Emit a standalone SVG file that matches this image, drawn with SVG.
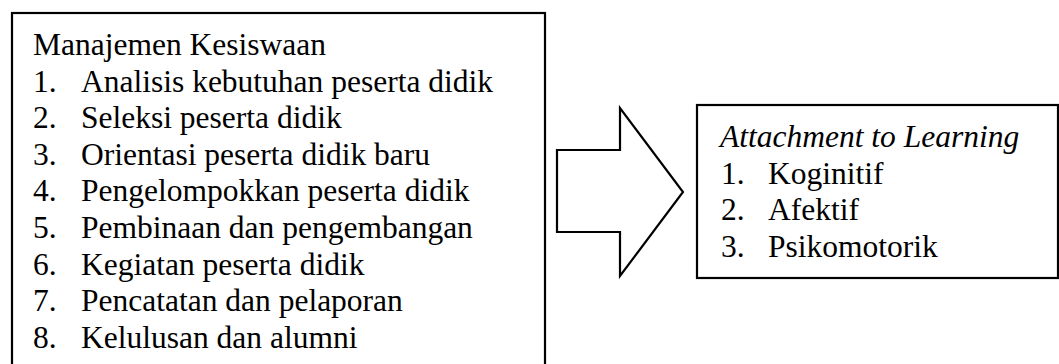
<svg xmlns="http://www.w3.org/2000/svg" width="1059" height="364" viewBox="0 0 1059 364">
<style>
.box{fill:#fff;stroke:#000;stroke-width:2.2}
.t{font-family:"Liberation Serif","Times New Roman",serif;font-size:31.5px;fill:#000}
.i{font-style:italic}
</style>
<rect width="1059" height="364" fill="#fff"/>
<g id="kesiswaan">
<rect class="box" x="12" y="13" width="533" height="370"/>
<text class="t" x="33" y="55">Manajemen Kesiswaan</text>
<text class="t" x="33" y="91.6">1.</text><text class="t" x="81" y="91.6">Analisis kebutuhan peserta didik</text>
<text class="t" x="33" y="128.2">2.</text><text class="t" x="81" y="128.2">Seleksi peserta didik</text>
<text class="t" x="33" y="164.8">3.</text><text class="t" x="81" y="164.8">Orientasi peserta didik baru</text>
<text class="t" x="33" y="201.4">4.</text><text class="t" x="81" y="201.4">Pengelompokkan peserta didik</text>
<text class="t" x="33" y="238">5.</text><text class="t" x="81" y="238">Pembinaan dan pengembangan</text>
<text class="t" x="33" y="274.6">6.</text><text class="t" x="81" y="274.6">Kegiatan peserta didik</text>
<text class="t" x="33" y="311.2">7.</text><text class="t" x="81" y="311.2">Pencatatan dan pelaporan</text>
<text class="t" x="33" y="347.8">8.</text><text class="t" x="81" y="347.8">Kelulusan dan alumni</text>
</g>
<g id="connectors">
<polygon class="box" points="557,150 620,150 620,108 683,192 620,276 620,232 557,232"/>
</g>
<g id="attachment">
<rect class="box" x="697" y="105" width="361" height="173"/>
<text class="t i" x="720" y="147">Attachment to Learning</text>
<text class="t" x="721" y="183.6">1.</text><text class="t" x="768" y="183.6">Koginitif</text>
<text class="t" x="721" y="220.2">2.</text><text class="t" x="768" y="220.2">Afektif</text>
<text class="t" x="721" y="256.8">3.</text><text class="t" x="768" y="256.8">Psikomotorik</text>
</g>
</svg>
